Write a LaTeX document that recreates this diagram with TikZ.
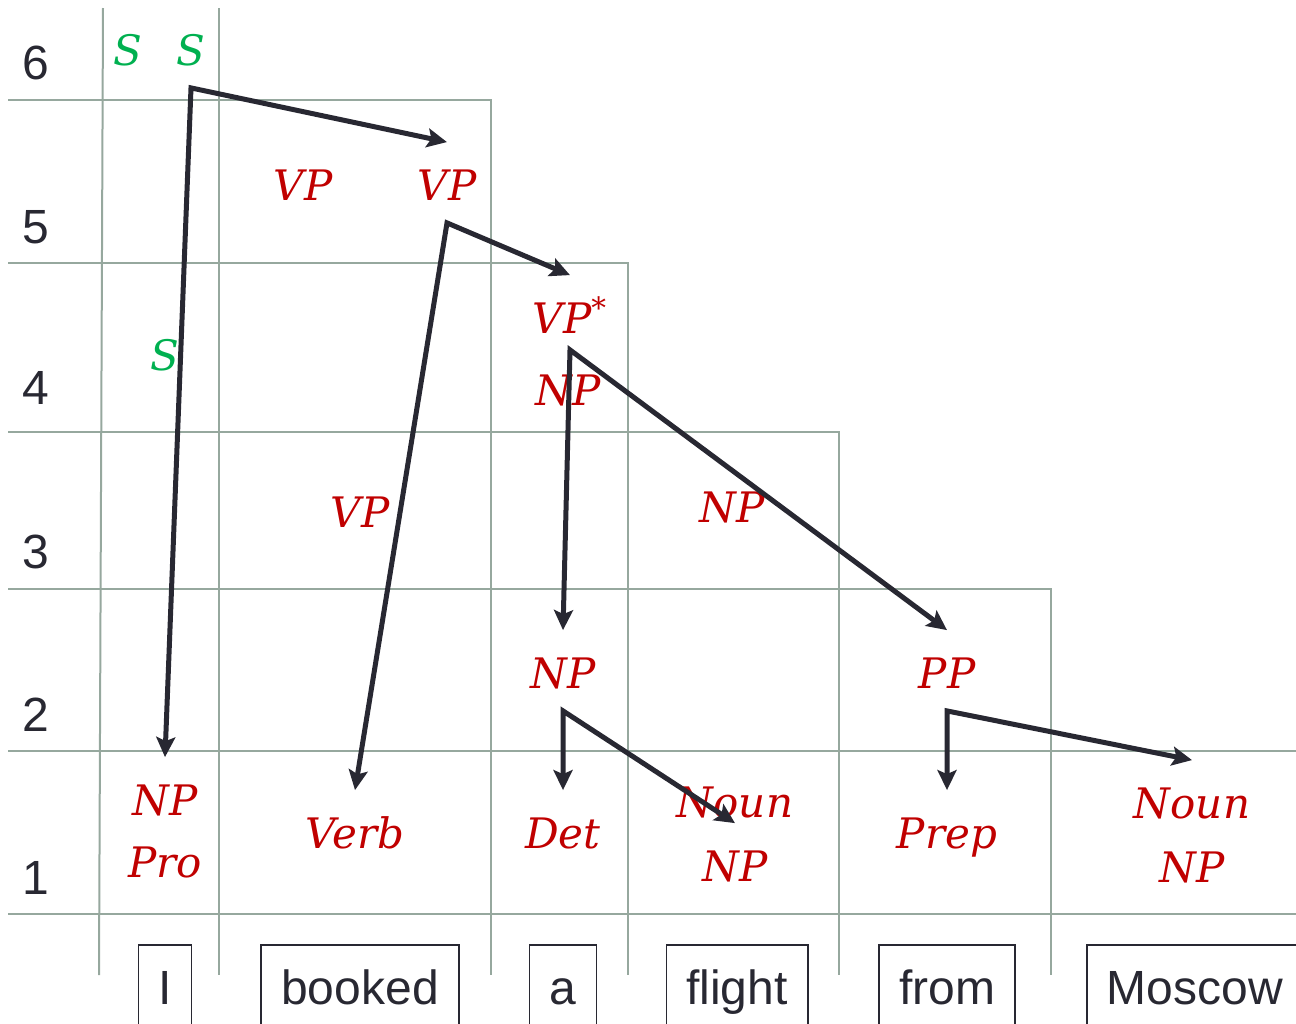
\documentclass[tikz,border=0pt]{standalone}
\usepackage{fontspec}
\setmainfont{Liberation Sans}
\newfontfamily\labelfont{DejaVu Serif}
\usepackage{xcolor}
\usetikzlibrary{arrows.meta}
\definecolor{chartgrid}{RGB}{150,168,158}
\definecolor{labelred}{RGB}{192,0,0}
\definecolor{labelgreen}{RGB}{0,176,80}
\definecolor{arrowdark}{RGB}{40,40,50}

\begin{document}
\begin{tikzpicture}[
    x=0.5pt, y=-0.5pt,
    grid_line/.style={draw=chartgrid, line width=1pt},
    cell/.style={inner sep=0pt, minimum height=40pt, text height=22.8pt, text depth=5pt, font=\fontsize{21}{25}\selectfont\labelfont\itshape, text=labelred},
    start_cell/.style={cell, text=labelgreen},
    row_num/.style={font=\fontsize{24}{28}\selectfont, text=arrowdark},
    word/.style={draw=arrowdark, line width=0.8pt, minimum height=42pt, inner xsep=10pt, text height=22pt, text depth=4.8pt, font=\fontsize{24}{28}\selectfont, text=arrowdark},
    arrow/.style={{Stealth[length=10pt,width=9.5pt,inset=2pt]}-{Stealth[length=10pt,width=9.5pt,inset=2pt]}, draw=arrowdark, line width=2.5pt}
]
\useasboundingbox (0,0) rectangle (1296,1023);

\draw[grid_line] (8,100) -- (491,100) -- (491,975);
\draw[grid_line] (8,263) -- (628,263) -- (628,975);
\draw[grid_line] (8,432) -- (839,432) -- (839,975);
\draw[grid_line] (8,589) -- (1051,589) -- (1051,975);
\draw[grid_line] (8,751) -- (1296,751);
\draw[grid_line] (8,914) -- (1296,914);
\draw[grid_line] (103,8) -- (99,975);
\draw[grid_line] (219,8) -- (219,975);

\node[row_num] (row6) at (36,63) {6};
\node[row_num] (row5) at (36,227) {5};
\node[row_num] (row4) at (36,388) {4};
\node[row_num] (row3) at (36,552) {3};
\node[row_num] (row2) at (36,715) {2};
\node[row_num] (row1) at (36,878) {1};

\node[start_cell] (s_a) at (128,47.5) {S};
\node[start_cell] (s_b) at (191,47.5) {S};
\node[cell] (vp_a) at (303,182.5) {VP};
\node[cell] (vp_b) at (447,182.5) {VP};
\node[start_cell] (s_c) at (165,352.5) {S};
\node[cell] (vpstar) at (570,315.5) {VP\textsuperscript{*}};
\node[cell] (np_4) at (568,387.5) {NP};
\node[cell] (vp_3) at (360,509.5) {VP};
\node[cell] (np_3) at (732,504.5) {NP};
\node[cell] (np_2) at (563,670.5) {NP};
\node[cell] (pp_2) at (947,670.5) {PP};
\node[cell] (np_i) at (165,797.5) {NP};
\node[cell] (pro_i) at (165,859.5) {Pro};
\node[cell] (verb) at (355,830.5) {Verb};
\node[cell] (det) at (563,830.5) {Det};
\node[cell] (noun_f) at (735,799.5) {Noun};
\node[cell] (np_f) at (735,863.5) {NP};
\node[cell] (prep) at (947,830.5) {Prep};
\node[cell] (noun_m) at (1192,800.5) {Noun};
\node[cell] (np_m) at (1192,864.5) {NP};

\node[word] (w_i) at (165,987) {I};
\node[word] (w_booked) at (360,987) {booked};
\node[word] (w_a) at (563,987) {a};
\node[word] (w_flight) at (737,987) {flight};
\node[word] (w_from) at (947,987) {from};
\node[word] (w_moscow) at (1195,987) {Moscow};

\draw[arrow] (vp_b.north) -- (s_b.south) -- (np_i.north);
\draw[arrow] (vpstar.north) -- (vp_b.south) -- (verb.north);
\draw[arrow] (np_2.north) -- ([yshift=3pt]vpstar.south) -- (pp_2.north);
\draw[arrow] (det.north) -- (np_2.south) -- (np_f.north);
\draw[arrow] (prep.north) -- (pp_2.south) -- (noun_m.north);
\end{tikzpicture}
\end{document}
